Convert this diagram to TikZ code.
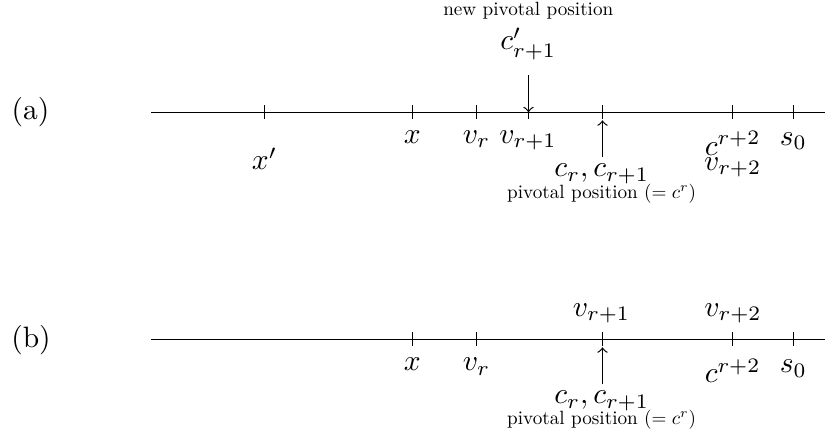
\documentclass[tikz,border=0pt]{standalone}
\usepackage{graphicx}
\newcommand{\smalltxt}[1]{\scalebox{0.65}{#1}}
\begin{document}
\begin{tikzpicture}[x=0.33898pt,y=-0.33898pt,
  lab/.style={inner sep=0pt,font=\fontsize{10}{12}\selectfont},
  small/.style={inner sep=0pt,font=\fontsize{10}{12}\selectfont},
  axis/.style={line width=0.4pt},
  tickmark/.style={line width=0.4pt},
  arr/.style={->,line width=0.4pt}]
\useasboundingbox (0,0) rectangle (825,433);

% ---------------- (a) ----------------
\node[lab] (la) at (30.5,112.5) {(a)};
\coordinate (aL) at (151,112.3);
\coordinate (aR) at (825,112.3);
\draw[axis] (aL) -- (aR);
\coordinate (axp) at (264.5,112.3);
\coordinate (ax) at (412.3,112.3);
\coordinate (avr) at (476.5,112.3);
\coordinate (avr1) at (528.5,112.3);
\coordinate (ac) at (602.5,112.3);
\coordinate (acr2) at (732.7,112.3);
\coordinate (as0) at (793.3,112.3);
\foreach \t in {axp,ax,avr,avr1,ac,acr2,as0}
  \draw[tickmark] (\t) +(0,-7) -- +(0,7);

\node[lab,anchor=north] (lxp) at (264.5,147) {$x'$};
\node[lab,anchor=north] (lx) at (412.3,130) {$x$};
\node[lab,anchor=north] (lvr) at (476.5,130) {$v_r$};
\node[lab,anchor=north] (lvr1) at (528,130) {$v_{r+1}$};
\node[lab,anchor=north] (lcr2) at (732.7,131) {$c^{r+2}$};
\node[lab,anchor=north] (ls0) at (793.3,132) {$s_0$};
\node[lab,anchor=north] (lvr2) at (732.7,157) {$v_{r+2}$};

% down arrow: new pivotal position
\node[small] (newpiv) at (528.3,10.7) {\smalltxt{new pivotal position}};
\node[lab,anchor=north] (cpr) at (528.3,27) {$c'_{r+1}$};
\coordinate (dnA) at (528.5,75);
\draw[arr] (dnA) -- (avr1);

% up arrow: pivotal position
\coordinate (upAs) at (602.5,157.3);
\coordinate (upAe) at (602.5,120.3);
\draw[arr] (upAs) -- (upAe);
\node[lab,anchor=north] (crA) at (601.7,163.3) {$c_r, c_{r+1}$};
\node[small] (pivA) at (601.7,193.5) {\smalltxt{pivotal position $(= c^r)$}};

% ---------------- (b) ----------------
\node[lab] (lb) at (31,340) {(b)};
\coordinate (bL) at (151,339.3);
\coordinate (bR) at (825,339.3);
\draw[axis] (bL) -- (bR);
\coordinate (bx) at (412.3,339.3);
\coordinate (bvr) at (476.5,339.3);
\coordinate (bc) at (602.5,339.3);
\coordinate (bcr2) at (732.7,339.3);
\coordinate (bs0) at (793.3,339.3);
\foreach \t in {bx,bvr,bc,bcr2,bs0}
  \draw[tickmark] (\t) +(0,-7) -- +(0,7);

\node[lab,anchor=north] (mx) at (412.3,357.3) {$x$};
\node[lab,anchor=north] (mvr) at (476.5,357.3) {$v_r$};
\node[lab,anchor=north] (mcr2) at (732.7,358.3) {$c^{r+2}$};
\node[lab,anchor=north] (ms0) at (793.3,359.3) {$s_0$};
\node[lab,anchor=north] (mvr1) at (601.5,303) {$v_{r+1}$};
\node[lab,anchor=north] (mvr2) at (733,303) {$v_{r+2}$};

\coordinate (upBs) at (602.5,384.3);
\coordinate (upBe) at (602.5,347.3);
\draw[arr] (upBs) -- (upBe);
\node[lab,anchor=north] (crB) at (601.7,390.3) {$c_r, c_{r+1}$};
\node[small] (pivB) at (601.7,419.5) {\smalltxt{pivotal position $(= c^r)$}};
\end{tikzpicture}
\end{document}
